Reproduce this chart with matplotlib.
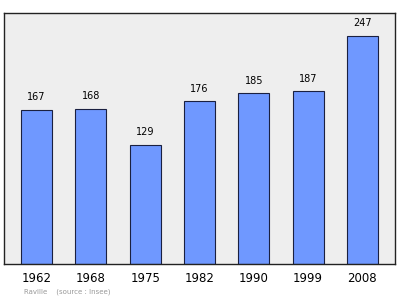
import matplotlib
matplotlib.use("Agg")
import matplotlib.pyplot as plt

years = ["1962", "1968", "1975", "1982", "1990", "1999", "2008"]
population = [167, 168, 129, 176, 185, 187, 247]
footer = "Raville    (source : Insee)"

fig = plt.figure(figsize=(4.0, 2.99), dpi=100)
ax = fig.add_axes([4 / 400, 1 - 264 / 299, 391 / 400, 251 / 299])
ax.set_facecolor("#eeeeee")

positions = range(len(years))
ax.bar(positions, population, width=0.57, color="#6f98ff",
       edgecolor="#1a2040", linewidth=0.8, zorder=2)
for x, v in zip(positions, population):
    ax.text(x, v + 8, str(v), ha="center", va="bottom", fontsize=7, color="black")

ax.set_xlim(-0.6, 6.6)
ax.set_ylim(0, max(population) * 1.1)
ax.set_yticks([])
ax.set_xticks(list(positions))
ax.set_xticklabels(years, fontsize=8.5)
ax.tick_params(axis="x", length=0, pad=6)
for side in ax.spines.values():
    side.set_color("#222222")
    side.set_linewidth(1.0)

fig.text(24 / 400, 1 - 292 / 299, footer, fontsize=5, color="#999999",
         ha="left", va="center")

fig.savefig("out.png", dpi=100)
